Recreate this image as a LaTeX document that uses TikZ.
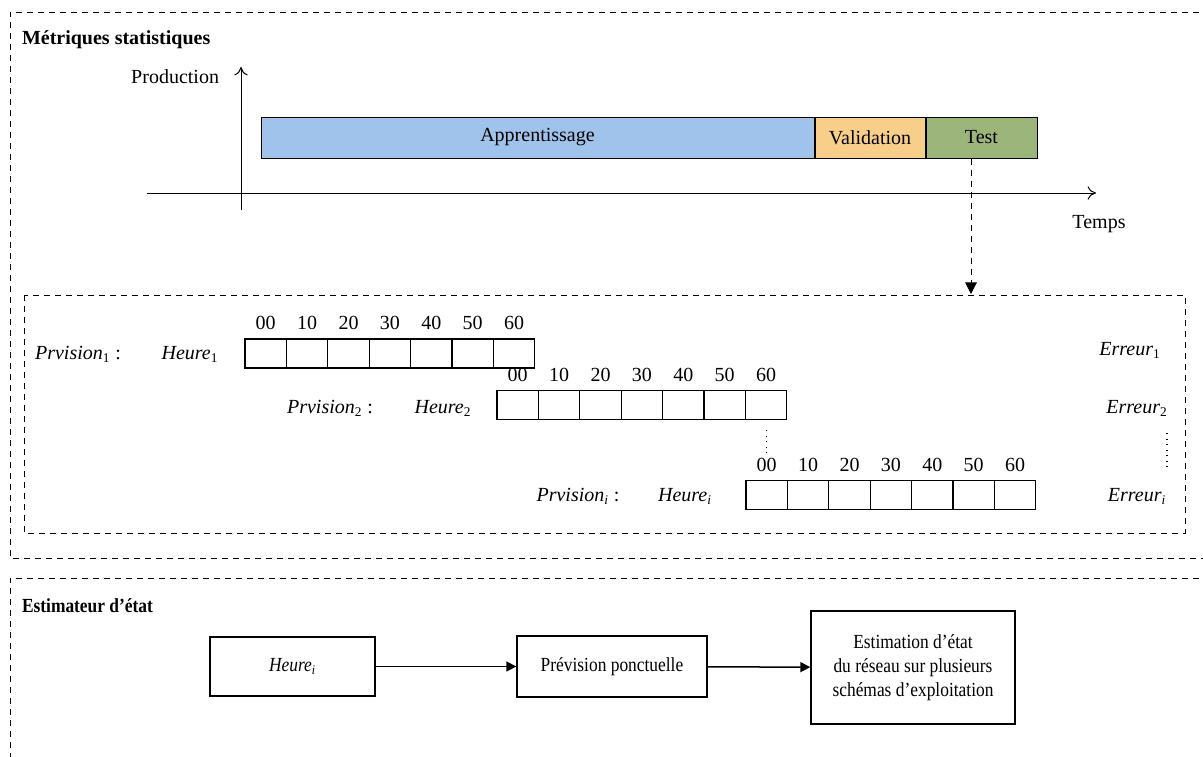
\documentclass[tikz,border=0pt,12pt]{standalone}
\usepackage{fontspec}
\setmainfont{Liberation Serif}
\newfontfamily\narrowrm[FakeStretch=0.87]{Liberation Serif}
\usetikzlibrary{positioning,arrows.meta}
\definecolor{apprblue}{HTML}{A0C3EC}
\definecolor{validorange}{HTML}{F8CF8A}
\definecolor{testgreen}{HTML}{9BB57B}
\tikzset{
  dashbox/.style={dash pattern=on 3.6pt off 3pt, line width=0.6pt},
  phasebar/.style={draw, line width=0.6pt, minimum height=24.6pt, inner sep=0pt},
  cellbox/.style={draw, line width=0.7pt, minimum width=24.85pt, minimum height=17.4pt, inner sep=0pt},
  flowbox/.style={draw, line width=0.8pt, align=center, inner sep=2pt, font=\narrowrm},
  flowarrow/.style={-{Triangle[length=6pt,width=6pt]}, line width=0.9pt},
  vdotline/.style={line width=0.7pt, dash pattern=on 0.7pt off 2.6pt},
}
\newcommand{\itsub}[2]{\textit{#1}\textsubscript{#2}}

\begin{document}
\begin{tikzpicture}[x=0.6pt, y=-0.6pt]
  \useasboundingbox (0,0) rectangle (1203,756);
  % section frames
  \draw[dashbox] (1210,12) -- (10,12) -- (10,558) -- (1210,558);
  \draw[dashbox] (1210,578) -- (10,578) -- (10,760);
  \draw[dashbox] (24,295) rectangle (1185,533);

  % --- statistical metrics ---
  \node[anchor=west, font=\bfseries] (metr) at (15,40) {Métriques statistiques};
  \node[anchor=east] (prodlbl) at (226,77) {Production};
  \node (temps) at (1099,224) {Temps};
  \coordinate (yaxb) at (241,210);
  \coordinate (yaxt) at (241,67);
  \coordinate (xaxl) at (147,193);
  \coordinate (xaxr) at (1096,193);
  \draw[-{To[length=5pt,width=8pt]}, line width=0.6pt] (yaxb) -- (yaxt);
  \draw[-{To[length=5pt,width=8pt]}, line width=0.6pt] (xaxl) -- (xaxr);

  \node[phasebar, fill=apprblue, minimum width=331.8pt] (appr) at (537.5,137.5) {Apprentissage};
  \node[phasebar, fill=validorange, minimum width=66pt, right=0pt of appr] (valid) {Validation};
  \node[phasebar, fill=testgreen, minimum width=66.6pt, right=0pt of valid] (test) {Test};

  \coordinate (tin) at (971,294);
  \draw[dashbox, -{Triangle[length=7pt,width=7pt]}] (test.south -| tin) -- (tin);

  % forecast rows
  \foreach \mn [count=\k from 0] in {00,10,20,30,40,50,60} {
    \node[cellbox, label={[label distance=1pt]above:\mn}] (ra\k) at (265.7+41.4*\k,353.5) {};
    \node[cellbox, label={[label distance=1pt]above:\mn}] (rb\k) at (517.7+41.4*\k,405) {};
    \node[cellbox, label={[label distance=1pt]above:\mn}] (rc\k) at (766.7+41.4*\k,495) {};
  }
  \node (prv1) at (78,354) {\itsub{Prvision}{1} :};
  \node (hr1) at (190,354) {\itsub{Heure}{1}};
  \node (err1) at (1130,350) {\itsub{Erreur}{1}};
  \node (prv2) at (330,408) {\itsub{Prvision}{2} :};
  \node (hr2) at (443,408) {\itsub{Heure}{2}};
  \node (err2) at (1137,408) {\itsub{Erreur}{2}};
  \node (prv3) at (578,496) {\itsub{Prvision}{\textit{i}} :};
  \node (hr3) at (685,496) {\itsub{Heure}{\textit{i}}};
  \node (err3) at (1137,496) {\itsub{Erreur}{\textit{i}}};
  \draw[vdotline] ([yshift=-6pt]rb6.south) -- ([yshift=-20pt]rb6.south);
  \draw[vdotline] (1167,433) -- (1167,470);

  % --- state estimator ---
  \node[anchor=west, font=\narrowrm\bfseries] (estlbl) at (15,606) {Estimateur d’état};
  \node[flowbox, minimum width=99pt, minimum height=35.4pt] (hri) at (292.5,666.5) {\itsub{Heure}{\textit{i}}};
  \node[flowbox, minimum width=114pt, minimum height=36.6pt] (prev) at (612,666.5) {Prévision ponctuelle};
  \node[flowbox, minimum width=122.4pt, minimum height=67.8pt] (estim) at (913,667.5)
    {Estimation d’état\\du réseau sur plusieurs\\schémas d’exploitation};
  \draw[flowarrow] (hri) -- (prev);
  \draw[flowarrow] (prev) -- (estim);
\end{tikzpicture}
\end{document}
